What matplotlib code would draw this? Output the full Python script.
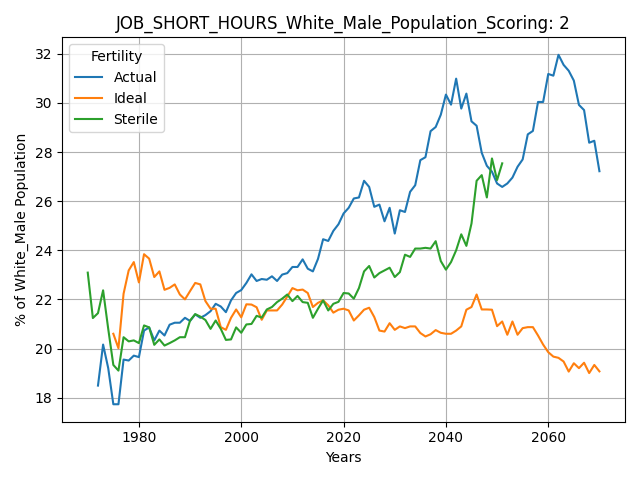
import matplotlib
matplotlib.use('Agg')
import matplotlib.pyplot as plt

# yearly values
actual_years = list(range(1972, 2071))
actual = [18.49, 20.16, 19.2, 17.73, 17.73, 19.55, 19.51, 19.71, 19.65, 20.73,
          20.86, 20.33, 20.73, 20.53, 20.97, 21.05, 21.05, 21.25, 21.12, 21.39,
          21.25, 21.36, 21.52, 21.82, 21.71, 21.48, 21.96, 22.26, 22.38, 22.67,
          23.02, 22.75, 22.83, 22.8, 22.94, 22.75, 23.01, 23.07, 23.32, 23.32,
          23.63, 23.25, 23.14, 23.65, 24.45, 24.38, 24.79, 25.06, 25.5, 25.73,
          26.11, 26.15, 26.83, 26.58, 25.77, 25.86, 25.18, 25.73, 24.68, 25.63,
          25.56, 26.38, 26.65, 27.67, 27.79, 28.85, 29.02, 29.52, 30.34, 29.93,
          30.99, 29.77, 30.38, 29.25, 29.07, 27.97, 27.44, 27.2, 26.72, 26.58,
          26.72, 26.96, 27.4, 27.7, 28.72, 28.86, 30.04, 30.04, 31.18, 31.11,
          31.96, 31.55, 31.31, 30.91, 29.92, 29.71, 28.38, 28.46, 27.22]

ideal_years = list(range(1975, 2071))
ideal = [20.6, 20.01, 22.23, 23.18, 23.52, 22.69, 23.84, 23.66, 22.91, 23.14,
         22.39, 22.47, 22.61, 22.2, 22.0, 22.34, 22.67, 22.61, 21.93, 21.62,
         21.62, 20.87, 20.76, 21.25, 21.59, 21.27, 21.8, 21.79, 21.68, 21.17,
         21.55, 21.55, 21.55, 21.79, 22.12, 22.46, 22.37, 22.4, 22.26, 21.69,
         21.86, 21.96, 21.76, 21.46, 21.58, 21.62, 21.55, 21.14, 21.35, 21.58,
         21.66, 21.28, 20.73, 20.69, 21.03, 20.76, 20.9, 20.83, 20.9, 20.9,
         20.63, 20.49, 20.58, 20.75, 20.64, 20.6, 20.6, 20.73, 20.9, 21.58,
         21.69, 22.2, 21.59, 21.59, 21.58, 20.91, 21.1, 20.56, 21.1, 20.56,
         20.83, 20.87, 20.87, 20.53, 20.16, 19.85, 19.67, 19.62, 19.47, 19.06,
         19.4, 19.2, 19.42, 19.0, 19.33, 19.07]

sterile_years = list(range(1970, 2052))
sterile = [23.09, 21.24, 21.44, 22.37, 20.8, 19.33, 19.1, 20.46, 20.29, 20.33,
           20.22, 20.94, 20.86, 20.15, 20.37, 20.12, 20.22, 20.33, 20.46, 20.46,
           21.14, 21.4, 21.3, 21.16, 20.8, 21.14, 20.8, 20.35, 20.37, 20.86,
           20.64, 20.98, 21.0, 21.33, 21.26, 21.59, 21.69, 21.89, 22.03, 22.2,
           21.93, 22.14, 21.89, 21.86, 21.25, 21.62, 21.96, 21.55, 21.82, 21.9,
           22.26, 22.24, 22.03, 22.46, 23.14, 23.36, 22.89, 23.07, 23.18, 23.29,
           22.91, 23.11, 23.82, 23.73, 24.07, 24.07, 24.1, 24.07, 24.37, 23.56,
           23.21, 23.52, 24.0, 24.65, 24.18, 25.09, 26.83, 27.06, 26.15, 27.74,
           26.86, 27.54]

fig, ax = plt.subplots(figsize=(6.4, 4.8), dpi=100)
ax.plot(actual_years, actual, label='Actual')
ax.plot(ideal_years, ideal, label='Ideal')
ax.plot(sterile_years, sterile, label='Sterile')

ax.set_title('JOB_SHORT_HOURS_White_Male_Population_Scoring: 2')
ax.set_xlabel('Years')
ax.set_ylabel('% of White_Male Population')
ax.grid(True)
ax.legend(title='Fertility', loc='upper left')

fig.tight_layout()
fig.savefig('out.png')
